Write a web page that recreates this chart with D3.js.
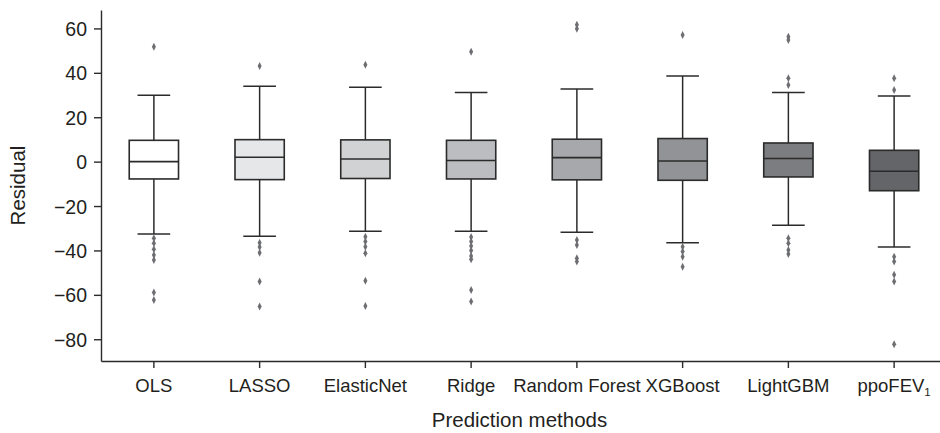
<!DOCTYPE html>
<html>
<head>
<meta charset="utf-8">
<script src="https://cdn.jsdelivr.net/npm/d3@7"></script>
<style>
  body { margin: 0; background: #fff; }
  svg { font-family: "Liberation Sans", Arial, sans-serif; }
</style>
</head>
<body>
<div id="chart"></div>
<script>
// data
const methods = ["OLS", "LASSO", "ElasticNet", "Ridge", "Random Forest", "XGBoost", "LightGBM", "ppoFEV1"];
const whiskerLow = [-32.6, -33.6, -31.4, -31.4, -31.8, -36.5, -28.6, -38.4];
const q1 = [-7.8, -8.1, -7.6, -7.8, -8.2, -8.4, -6.9, -13.1];
const median = [0, 2, 1.2, 0.5, 1.8, 0.3, 1.4, -4.3];
const q3 = [9.6, 9.9, 9.8, 9.6, 10.1, 10.4, 8.4, 5.1];
const whiskerHigh = [29.9, 34, 33.5, 31.1, 32.7, 38.6, 31.1, 29.6];
const outliers = [
  [51.8, -34.5, -36.8, -39.5, -42, -44.3, -59, -62.3],
  [43.1, -36.5, -38.5, -41, -54, -65.3],
  [43.6, -33.8, -36, -38.3, -41.3, -53.6, -65],
  [49.5, -34, -36, -38, -40, -42.5, -44, -57.8, -63],
  [61.6, 59.8, -35.3, -37.5, -43.5, -45],
  [57, -38.3, -40.5, -42.8, -47.3],
  [56.3, 54.8, 37.6, 34.5, -34.5, -36.8, -39.8, -41.6],
  [37.6, 32.3, -42.8, -45, -51, -54, -82.3]
];
const fills = ["#ffffff", "#e6e7e8", "#d1d2d4", "#bcbdc0", "#a7a8ab", "#929396", "#7c7d80", "#646568"];
const yTicks = [-80, -60, -40, -20, 0, 20, 40, 60];

const width = 940, height = 433;
const margin = { top: 10, right: -7, bottom: 72, left: 101 };

const svg = d3.select("#chart").append("svg")
  .attr("width", width)
  .attr("height", height);

const x = d3.scaleBand()
  .domain(methods)
  .range([margin.left, width - margin.right])
  .padding(0);

const y = d3.scaleLinear()
  .domain([-89.8, 68.3])
  .range([height - margin.bottom, margin.top]);

const boxW = x.bandwidth() * 0.466;
const capW = boxW * 0.46;
const ink = "#2b2b2b";

const rows = methods.map((m, i) => ({
  m, lo: whiskerLow[i], q1: q1[i], med: median[i], q3: q3[i], hi: whiskerHigh[i],
  out: outliers[i], fill: fills[i]
}));

// axes
const yAxis = svg.append("g")
  .attr("transform", `translate(${margin.left},0)`)
  .call(d3.axisLeft(y).tickValues(yTicks).tickSize(7).tickPadding(7).tickSizeOuter(0));

const xAxis = svg.append("g")
  .attr("transform", `translate(0,${height - margin.bottom})`)
  .call(d3.axisBottom(x).tickSize(7).tickPadding(11).tickSizeOuter(0));

[yAxis, xAxis].forEach(a => {
  a.select(".domain").attr("stroke", ink).attr("stroke-width", 1.4);
  a.selectAll(".tick line").attr("stroke", ink).attr("stroke-width", 1.4);
  a.selectAll(".tick text").attr("fill", "#231f20")
    .style("font-family", "'Liberation Sans', Arial, sans-serif");
});
yAxis.selectAll(".tick text").attr("dy", "0.36em").style("font-size", "19.5px");
xAxis.selectAll(".tick text").style("font-size", "18.5px");

// subscript for ppoFEV1
xAxis.selectAll(".tick text")
  .filter(d => d === "ppoFEV1")
  .text(null)
  .call(t => {
    t.append("tspan").text("ppoFEV");
    t.append("tspan").text("1").attr("dy", "0.3em").style("font-size", "11.5px");
  });

// boxes
const g = svg.append("g");
const box = g.selectAll("g.box").data(rows).join("g").attr("class", "box")
  .attr("transform", d => `translate(${x(d.m) + x.bandwidth() / 2},0)`);

box.append("line")
  .attr("x1", 0).attr("x2", 0)
  .attr("y1", d => y(d.hi)).attr("y2", d => y(d.q3))
  .attr("stroke", ink).attr("stroke-width", 1.5);
box.append("line")
  .attr("x1", 0).attr("x2", 0)
  .attr("y1", d => y(d.q1)).attr("y2", d => y(d.lo))
  .attr("stroke", ink).attr("stroke-width", 1.5);
box.append("line")
  .attr("x1", -capW / 2 - 5).attr("x2", capW / 2 + 5)
  .attr("y1", d => y(d.hi)).attr("y2", d => y(d.hi))
  .attr("stroke", ink).attr("stroke-width", 1.5);
box.append("line")
  .attr("x1", -capW / 2 - 5).attr("x2", capW / 2 + 5)
  .attr("y1", d => y(d.lo)).attr("y2", d => y(d.lo))
  .attr("stroke", ink).attr("stroke-width", 1.5);

box.append("rect")
  .attr("x", -boxW / 2).attr("width", boxW)
  .attr("y", d => y(d.q3)).attr("height", d => y(d.q1) - y(d.q3))
  .attr("fill", d => d.fill)
  .attr("stroke", ink).attr("stroke-width", 1.6);

box.append("line")
  .attr("x1", -boxW / 2).attr("x2", boxW / 2)
  .attr("y1", d => y(d.med)).attr("y2", d => y(d.med))
  .attr("stroke", ink).attr("stroke-width", 1.6);

// outlier diamonds
box.selectAll("path.flier").data(d => d.out).join("path").attr("class", "flier")
  .attr("d", v => `M0,${y(v) - 4}L2,${y(v)}L0,${y(v) + 4}L-2,${y(v)}Z`)
  .attr("fill", "#6d6e71");

// axis titles
svg.append("text")
  .attr("x", (margin.left + width) / 2 - 1)
  .attr("y", 427)
  .attr("text-anchor", "middle")
  .attr("fill", "#231f20")
  .style("font-size", "20.5px")
  .text("Prediction methods");

svg.append("text")
  .attr("transform", `translate(25,${(margin.top + height - margin.bottom) / 2}) rotate(-90)`)
  .attr("text-anchor", "middle")
  .attr("fill", "#231f20")
  .style("font-size", "20.5px")
  .text("Residual");
</script>
</body>
</html>
